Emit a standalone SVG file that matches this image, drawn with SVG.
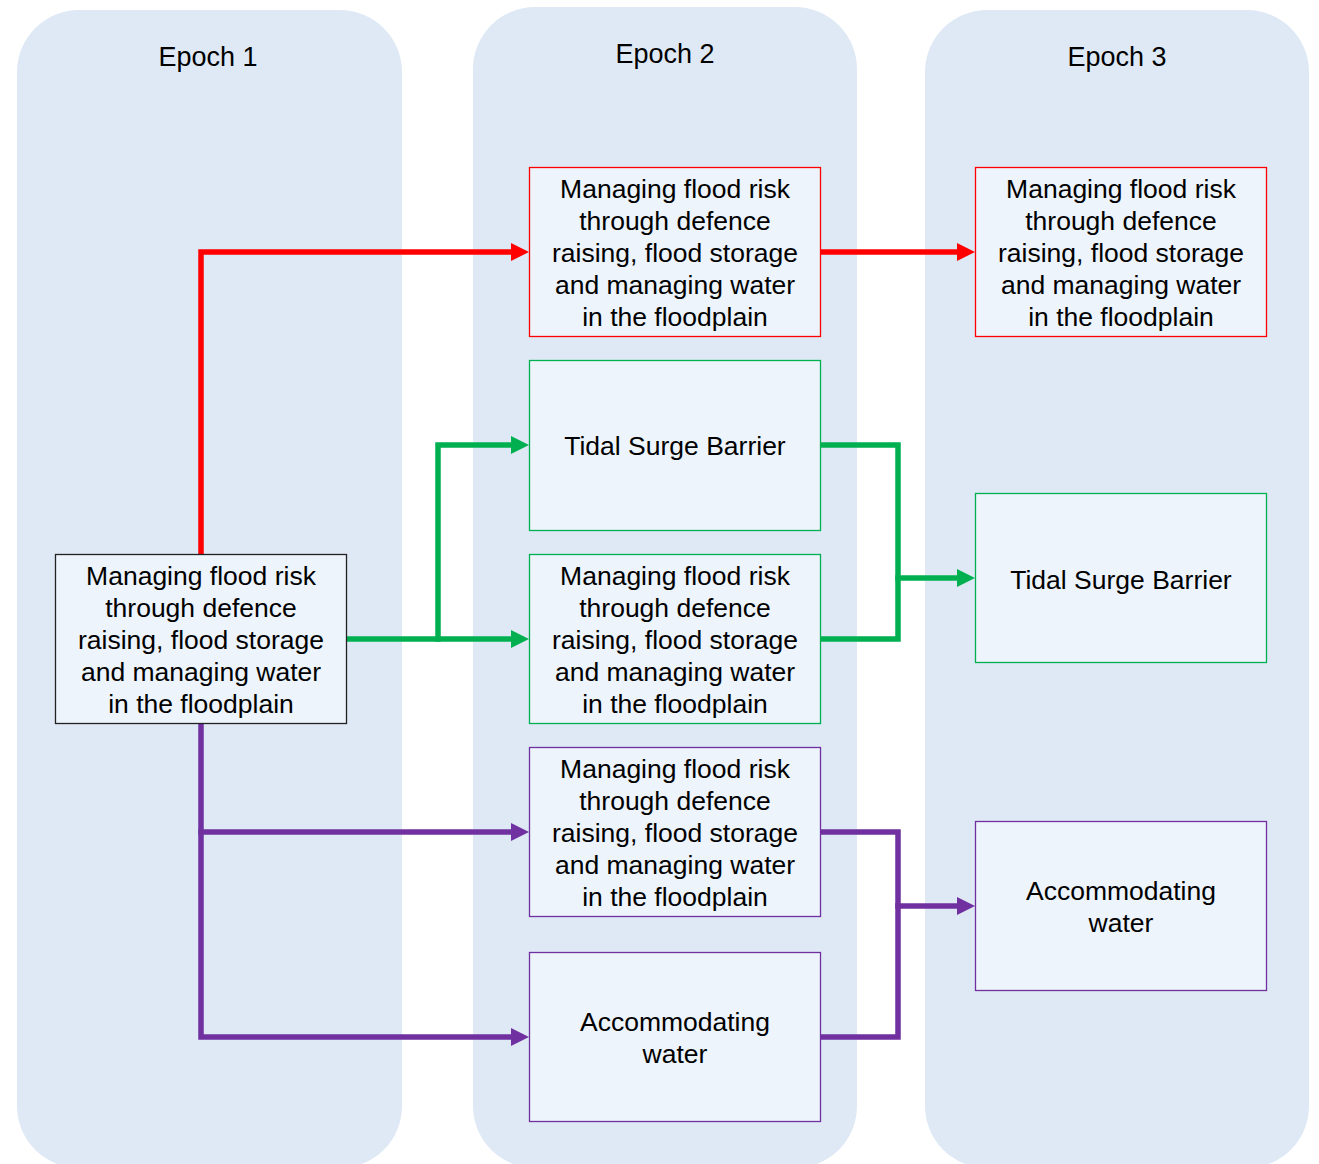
<svg xmlns="http://www.w3.org/2000/svg" width="1319" height="1164" viewBox="0 0 1319 1164">
<defs>
<style>
.col{fill:#DEE9F5;}
.title{font-family:"Liberation Sans",Arial,sans-serif;font-size:27px;fill:#000;text-anchor:middle;}
.box{fill:#EDF4FC;stroke-width:1.3;}
.txt{font-family:"Liberation Sans",Arial,sans-serif;font-size:26.5px;fill:#000;text-anchor:middle;}
.red{stroke:#FF0000;}
.green{stroke:#00B050;}
.purple{stroke:#7030A0;}
.blk{stroke:#222;}
.conn{fill:none;stroke-width:5.5;stroke-linejoin:miter;stroke-linecap:square;}
</style>
<marker id="aR" viewBox="0 0 18 18" markerWidth="18" markerHeight="18" markerUnits="userSpaceOnUse" refX="9" refY="9" orient="auto"><path d="M0,0 L18,9 L0,18 z" fill="#FF0000"/></marker>
<marker id="aG" viewBox="0 0 18 18" markerWidth="18" markerHeight="18" markerUnits="userSpaceOnUse" refX="9" refY="9" orient="auto"><path d="M0,0 L18,9 L0,18 z" fill="#00B050"/></marker>
<marker id="aP" viewBox="0 0 18 18" markerWidth="18" markerHeight="18" markerUnits="userSpaceOnUse" refX="9" refY="9" orient="auto"><path d="M0,0 L18,9 L0,18 z" fill="#7030A0"/></marker>
</defs>
<rect width="1319" height="1164" fill="#FFFFFF"/>
<g id="columns">
<g id="epoch1"><rect class="col" x="17" y="10" width="385" height="1158" rx="62" ry="62"/><text class="title" x="208" y="66">Epoch 1</text></g>
<g id="epoch2"><rect class="col" x="473" y="7" width="384" height="1161" rx="62" ry="62"/><text class="title" x="665" y="63">Epoch 2</text></g>
<g id="epoch3"><rect class="col" x="925" y="10" width="384" height="1158" rx="62" ry="62"/><text class="title" x="1117" y="66">Epoch 3</text></g>
</g>
<g id="connectors">
<path class="conn red" d="M201,554 V252 H520" marker-end="url(#aR)"/>
<path class="conn red" d="M820,252 H966" marker-end="url(#aR)"/>
<path class="conn green" d="M346,639 H520" marker-end="url(#aG)"/>
<path class="conn green" d="M438,639 V445 H520" marker-end="url(#aG)"/>
<path class="conn green" d="M820,445 H898 V639 H820"/>
<path class="conn green" d="M898,578 H966" marker-end="url(#aG)"/>
<path class="conn purple" d="M201,723 V1037 H520" marker-end="url(#aP)"/>
<path class="conn purple" d="M201,832 H520" marker-end="url(#aP)"/>
<path class="conn purple" d="M820,832 H898 V1037 H820"/>
<path class="conn purple" d="M898,906 H966" marker-end="url(#aP)"/>
</g>
<g id="n1">
<rect class="box blk" x="55.5" y="554.5" width="291" height="169"/>
<text class="txt" x="201" y="585">Managing flood risk</text>
<text class="txt" x="201" y="617">through defence</text>
<text class="txt" x="201" y="649">raising, flood storage</text>
<text class="txt" x="201" y="681">and managing water</text>
<text class="txt" x="201" y="713">in the floodplain</text>
</g>
<g id="n2a">
<rect class="box red" x="529.5" y="167.5" width="291" height="169"/>
<text class="txt" x="675" y="198">Managing flood risk</text>
<text class="txt" x="675" y="230">through defence</text>
<text class="txt" x="675" y="262">raising, flood storage</text>
<text class="txt" x="675" y="294">and managing water</text>
<text class="txt" x="675" y="326">in the floodplain</text>
</g>
<g id="n2b">
<rect class="box green" x="529.5" y="360.5" width="291" height="170"/>
<text class="txt" x="675" y="455">Tidal Surge Barrier</text>
</g>
<g id="n2c">
<rect class="box green" x="529.5" y="554.5" width="291" height="169"/>
<text class="txt" x="675" y="585">Managing flood risk</text>
<text class="txt" x="675" y="617">through defence</text>
<text class="txt" x="675" y="649">raising, flood storage</text>
<text class="txt" x="675" y="681">and managing water</text>
<text class="txt" x="675" y="713">in the floodplain</text>
</g>
<g id="n2d">
<rect class="box purple" x="529.5" y="747.5" width="291" height="169"/>
<text class="txt" x="675" y="778">Managing flood risk</text>
<text class="txt" x="675" y="810">through defence</text>
<text class="txt" x="675" y="842">raising, flood storage</text>
<text class="txt" x="675" y="874">and managing water</text>
<text class="txt" x="675" y="906">in the floodplain</text>
</g>
<g id="n2e">
<rect class="box purple" x="529.5" y="952.5" width="291" height="169"/>
<text class="txt" x="675" y="1031">Accommodating</text>
<text class="txt" x="675" y="1063">water</text>
</g>
<g id="n3a">
<rect class="box red" x="975.5" y="167.5" width="291" height="169"/>
<text class="txt" x="1121" y="198">Managing flood risk</text>
<text class="txt" x="1121" y="230">through defence</text>
<text class="txt" x="1121" y="262">raising, flood storage</text>
<text class="txt" x="1121" y="294">and managing water</text>
<text class="txt" x="1121" y="326">in the floodplain</text>
</g>
<g id="n3b">
<rect class="box green" x="975.5" y="493.5" width="291" height="169"/>
<text class="txt" x="1121" y="589">Tidal Surge Barrier</text>
</g>
<g id="n3c">
<rect class="box purple" x="975.5" y="821.5" width="291" height="169"/>
<text class="txt" x="1121" y="900">Accommodating</text>
<text class="txt" x="1121" y="932">water</text>
</g>
</svg>
